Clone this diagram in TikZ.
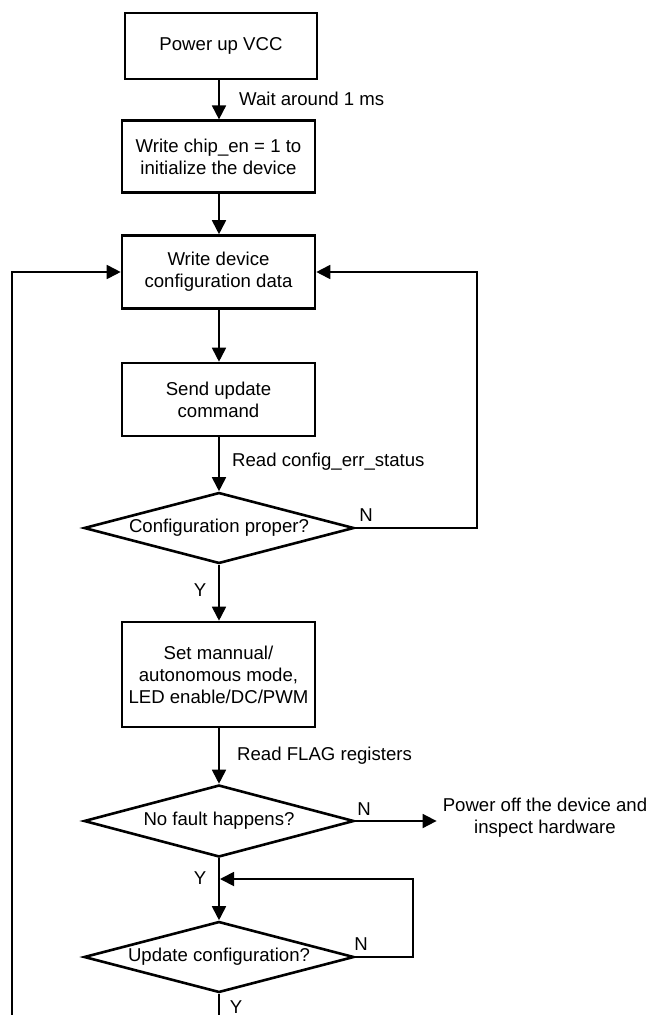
\documentclass[tikz,border=0pt]{standalone}
\usepackage{fontspec}
\setmainfont{Liberation Sans}
\usetikzlibrary{shapes.geometric,arrows.meta}
\tikzset{
  stepbox/.style={draw, line width=2.6pt, rectangle, minimum width=193pt, align=center, inner sep=0pt},
  decision/.style={draw, line width=2.6pt, diamond, aspect=3.8, minimum width=270pt, minimum height=71pt, inner sep=0pt, align=center},
  conn/.style={line width=1.8pt, -{Triangle[length=14pt,width=14pt]}},
  plain/.style={line width=1.8pt},
  lbl/.style={inner sep=0pt},
  every node/.style={font=\fontsize{18.6}{22}\selectfont}
}
\begin{document}
\begin{tikzpicture}[x=1pt,y=-1pt]
\useasboundingbox (0,0) rectangle (648,1015);
\node[stepbox, minimum width=192pt, minimum height=66pt] (b1) at (221,46) {Power up VCC};
\node[stepbox, minimum height=72pt] (b2) at (218.5,156.7) {Write chip\_en = 1 to\\initialize the device};
\node[stepbox, minimum height=73pt] (b3) at (218.5,272) {Write device\\configuration data};
\node[stepbox, minimum height=73pt] (b4) at (218.5,399.5) {Send update\\command};
\node[decision] (d1) at (219,528) {Configuration proper?};
\node[stepbox, minimum height=105pt] (b5) at (218.5,674.5) {Set mannual/\\autonomous mode,\\LED enable/DC/PWM};
\node[decision, minimum height=72pt] (d2) at (219,821) {No fault happens?};
\node[decision] (d3) at (219,957) {Update configuration?};
\node[lbl, align=center] (pw) at (545,818) {Power off the device and\\inspect hardware};

\node[lbl, anchor=west] (l1) at (239,99) {Wait around 1 ms};
\node[lbl, anchor=west] (l2) at (232,462) {Read config\_err\_status};
\node[lbl, anchor=west] (l3) at (237,756) {Read FLAG registers};
\node[lbl] (n1) at (366,515) {N};
\node[lbl] (n2) at (364,809) {N};
\node[lbl] (n3) at (361,944) {N};
\node[lbl] (y1) at (200,590) {Y};
\node[lbl] (y2) at (200,878) {Y};
\node[lbl] (y3) at (236,1007) {Y};

\coordinate (lb) at (11.6,1015);
\coordinate (db) at (219,1015);
\coordinate (jn) at (219,879);

\draw[conn] (b1.south -| d1.north) -- (b2.north -| d1.north);
\draw[conn] (b2.south -| d1.north) -- (b3.north -| d1.north);
\draw[conn] (b3.south -| d1.north) -- (b4.north -| d1.north);
\draw[conn] (b4.south -| d1.north) -- (d1.north);
\draw[conn] (d1.south) -- (b5.north -| d1.south);
\draw[conn] (b5.south -| d2.north) -- (d2.north);
\draw[conn] (d2.south) -- (d3.north);
\draw[conn] (d1.east) -- (477,528) -- (477,272) -- (b3.east);
\draw[conn, shorten >=6pt] (d2.east) -- (d2.east -| pw.west);
\draw[conn, shorten >=1pt] (d3.east) -- (413,957) -- (413,879) -- (jn);
\draw[conn] (lb) -- (11.6,272) -- (b3.west);
\draw[plain] (d3.south) -- (db);
\end{tikzpicture}
\end{document}
